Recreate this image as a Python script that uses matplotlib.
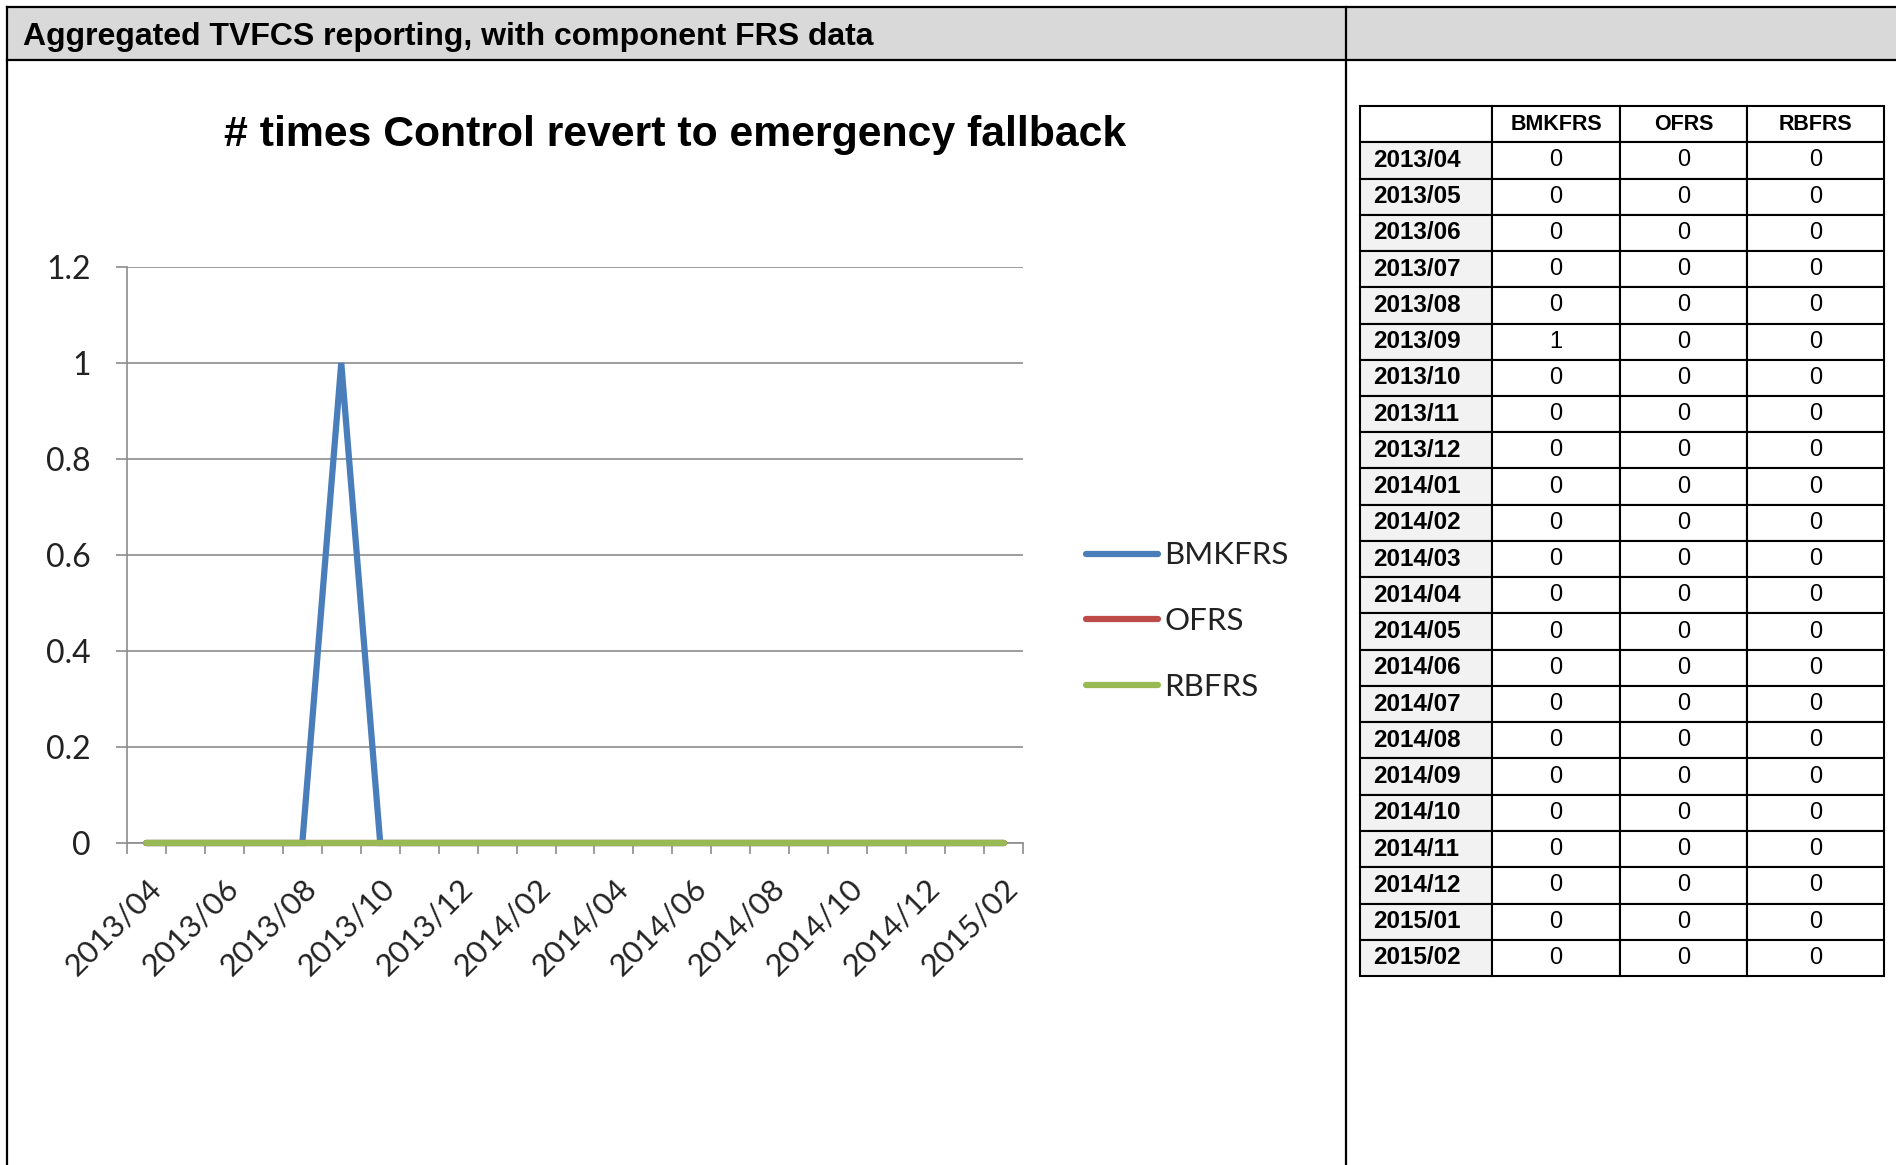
import matplotlib
matplotlib.use("Agg")
import matplotlib.pyplot as plt
from matplotlib.lines import Line2D
from matplotlib.patches import Rectangle

# ---- data
months = ["2013/04", "2013/05", "2013/06", "2013/07", "2013/08", "2013/09",
          "2013/10", "2013/11", "2013/12", "2014/01", "2014/02", "2014/03",
          "2014/04", "2014/05", "2014/06", "2014/07", "2014/08", "2014/09",
          "2014/10", "2014/11", "2014/12", "2015/01", "2015/02"]
bmkfrs = [0, 0, 0, 0, 0, 1, 0, 0, 0, 0, 0, 0, 0, 0, 0, 0, 0, 0, 0, 0, 0, 0, 0]
ofrs = [0, 0, 0, 0, 0, 0, 0, 0, 0, 0, 0, 0, 0, 0, 0, 0, 0, 0, 0, 0, 0, 0, 0]
rbfrs = [0, 0, 0, 0, 0, 0, 0, 0, 0, 0, 0, 0, 0, 0, 0, 0, 0, 0, 0, 0, 0, 0, 0]
series_names = ["BMKFRS", "OFRS", "RBFRS"]
y_ticks = [0, 0.2, 0.4, 0.6, 0.8, 1.0, 1.2]
y_ticklabels = ["0", "0.2", "0.4", "0.6", "0.8", "1", "1.2"]

header_text = "Aggregated TVFCS reporting, with component FRS data"
chart_title = "# times Control revert to emergency fallback"

colors = ["#4a7ebb", "#be4b48", "#98b954"]

W, H = 1896, 1165
fig = plt.figure(figsize=(W / 100, H / 100), dpi=100)

def fx(px):
    return px / W

def fy(py):
    return 1 - py / H

# ---- page frame (header band + borders)
fig.patches.append(Rectangle((fx(7), fy(60)), fx(W) - fx(7), fy(7) - fy(60),
                             transform=fig.transFigure, facecolor="#d9d9d9",
                             edgecolor="none", zorder=0))
frame_lines = [
    ([7, W], [7, 7]),
    ([7, W], [60, 60]),
    ([7, 7], [7, H]),
    ([1346, 1346], [7, H]),
]
for xs, ys in frame_lines:
    fig.add_artist(Line2D([fx(x) for x in xs], [fy(y) for y in ys],
                          transform=fig.transFigure, color="black", lw=1.6))

fig.text(fx(23), fy(37), header_text, fontsize=23, fontweight="bold",
         family="Liberation Sans", va="center", ha="left")

# ---- line chart
ax = fig.add_axes([fx(127), fy(843), fx(1023) - fx(127), fy(267) - fy(843)])
x = list(range(len(months)))
for vals, name, c in zip([bmkfrs, ofrs, rbfrs], series_names, colors):
    ax.plot(x, vals, color=c, lw=4.5, label=name, solid_capstyle="round",
            solid_joinstyle="miter", clip_on=False, zorder=3)

ax.set_xlim(-0.5, len(months) - 0.5)
ax.set_ylim(0, 1.2)
ax.set_yticks(y_ticks)
ax.set_yticklabels(y_ticklabels, family="Lato", fontsize=23, color="#222222")
ax.yaxis.grid(True, color="#8c8c8c", lw=1.2)
ax.set_axisbelow(True)
for s in ["top", "right"]:
    ax.spines[s].set_visible(False)
for s in ["left", "bottom"]:
    ax.spines[s].set_color("#8c8c8c")
    ax.spines[s].set_linewidth(1.2)
ax.tick_params(axis="y", length=8, width=1.2, color="#8c8c8c", pad=18)

# tick marks between categories, labels on every second category
ax.set_xticks([i - 0.5 for i in range(len(months) + 1)])
ax.set_xticklabels([])
ax.tick_params(axis="x", length=8, width=1.2, color="#8c8c8c")
ax.set_xticks(x[::2], minor=True)
ax.set_xticklabels(months[::2], minor=True, rotation=45, ha="right",
                   rotation_mode="anchor", family="Lato", fontsize=22.5,
                   color="#222222")
ax.tick_params(axis="x", which="minor", length=0, pad=22)

fig.text(fx(675), fy(135), chart_title, fontsize=30.8, fontweight="bold",
         family="Liberation Sans", ha="center", va="center")

leg = ax.legend(loc="center left", bbox_to_anchor=(fx(1058), fy(621)),
                bbox_transform=fig.transFigure, frameon=False,
                prop={"family": "Lato", "size": 22.5}, handlelength=2.3,
                handletextpad=0.2, labelspacing=1.2)
for t in leg.get_texts():
    t.set_color("#222222")

# ---- data table
tab_ax = fig.add_axes([fx(1360), fy(976), fx(1884) - fx(1360), fy(106) - fy(976)])
tab_ax.axis("off")
cell_text = [[str(a), str(b), str(c)] for a, b, c in zip(bmkfrs, ofrs, rbfrs)]
col_w = [132, 128, 127, 137]
tot = sum(col_w)
tbl = tab_ax.table(cellText=[[""] + series_names] + [[m] + r for m, r in zip(months, cell_text)],
                   colWidths=[w / tot for w in col_w], bbox=[0, 0, 1, 1],
                   cellLoc="center")
tbl.auto_set_font_size(False)
for (r, c), cell in tbl.get_celld().items():
    cell.set_edgecolor("black")
    cell.set_linewidth(1.5)
    txt = cell.get_text()
    txt.set_family("Liberation Sans")
    if r == 0:
        txt.set_fontsize(15.5)
        txt.set_fontweight("bold")
    elif c == 0:
        txt.set_fontsize(17.5)
        txt.set_fontweight("bold")
        txt.set_ha("left")
        cell.PAD = 0.1
        cell.set_facecolor("#f2f2f2")
    else:
        txt.set_fontsize(17)

fig.savefig("out.png", dpi=100)
